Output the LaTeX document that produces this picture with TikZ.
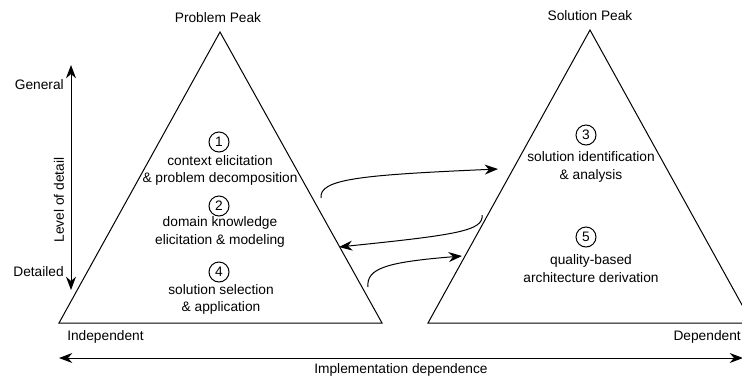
\documentclass[tikz,border=0pt]{standalone}
\usepackage{fontspec}
\setmainfont{Liberation Sans}
\usetikzlibrary{arrows.meta}

\begin{document}
\begin{tikzpicture}[x=0.75pt,y=-0.75pt,
    every node/.style={font=\fontsize{10.3}{13}\selectfont},
    txt/.style={align=center, inner sep=0pt},
    num/.style={circle, draw, line width=0.75pt, inner sep=0pt, minimum size=15pt},
    edge/.style={line width=0.75pt},
    arr/.style={line width=0.75pt, -{Stealth[length=10pt,width=7.5pt]}},
    dblarr/.style={line width=0.75pt, {Stealth[length=10pt,width=7.5pt]}-{Stealth[length=10pt,width=7.5pt]}}]

    % Fix the frame of the picture
    \useasboundingbox (0,0) rectangle (742,379);
    \clip (0,0) rectangle (742,379);

    % Define coordinates for the vertices of the two peaks
    \coordinate (PA) at (220, 32);
    \coordinate (PL) at (59, 323);
    \coordinate (PR) at (382, 323);
    \coordinate (SA) at (590, 30);
    \coordinate (SL) at (428, 323);
    \coordinate (SR) at (752, 323);

    % Draw the problem peak and the solution peak
    \draw[edge] (PA) -- (PL) -- (PR) -- cycle;
    \draw[edge] (SA) -- (SL) -- (SR) -- cycle;

    % Peak titles
    \node (ptitle) at (218, 18) {Problem Peak};
    \node (stitle) at (590, 16) {Solution Peak};

    % Steps inside the problem peak
    \node[num] (n1) at (219, 142) {1};
    \node[txt] (t1) at (220, 170.5) {context elicitation\\\& problem decomposition};
    \node[num] (n2) at (219, 206) {2};
    \node[txt] (t2) at (220, 232) {domain knowledge\\elicitation \& modeling};
    \node[num] (n4) at (219, 272) {4};
    \node[txt] (t4) at (221, 299.5) {solution selection\\\& application};

    % Steps inside the solution peak
    \node[num] (n3) at (586, 135) {3};
    \node[txt] (t3) at (591, 167) {solution identification\\\& analysis};
    \node[num] (n5) at (586, 237) {5};
    \node[txt] (t5) at (591, 268.5) {quality-based\\architecture derivation};

    % Free ends of the curved arrows between the peaks
    \coordinate (a1s) at (321, 198);
    \coordinate (a1e) at (498, 169);
    \coordinate (a2s) at (482, 215);
    \coordinate (a2e) at (339, 247);
    \coordinate (a3s) at (368, 287);
    \coordinate (a3e) at (462, 256);

    % Draw the curved arrows
    \draw[arr] (a1s) .. controls (319, 179) and (360, 175) .. (a1e);
    \draw[arr] (a2s) .. controls (484, 231) and (455, 235) .. (a2e);
    \draw[arr] (a3s) .. controls (366, 268) and (388, 262) .. (a3e);

    % Level of detail axis
    \coordinate (vtop) at (71, 65);
    \coordinate (vbot) at (71, 290);
    \draw[dblarr] (vbot) -- (vtop);
    \node[anchor=east, inner sep=0pt] (gen) at (64, 85) {General};
    \node[anchor=east, inner sep=0pt] (det) at (64, 272) {Detailed};
    \node[rotate=90] (lod) at (59, 200) {Level of detail};

    % Implementation dependence axis
    \coordinate (hleft) at (59, 358);
    \coordinate (hright) at (743, 358);
    \draw[dblarr] (hleft) -- (hright);
    \node[anchor=west, inner sep=0pt] (ind) at (67, 337) {Independent};
    \node[anchor=east, inner sep=0pt] (dep) at (741, 337) {Dependent};
    \node (impl) at (401, 370) {Implementation dependence};

\end{tikzpicture}
\end{document}
